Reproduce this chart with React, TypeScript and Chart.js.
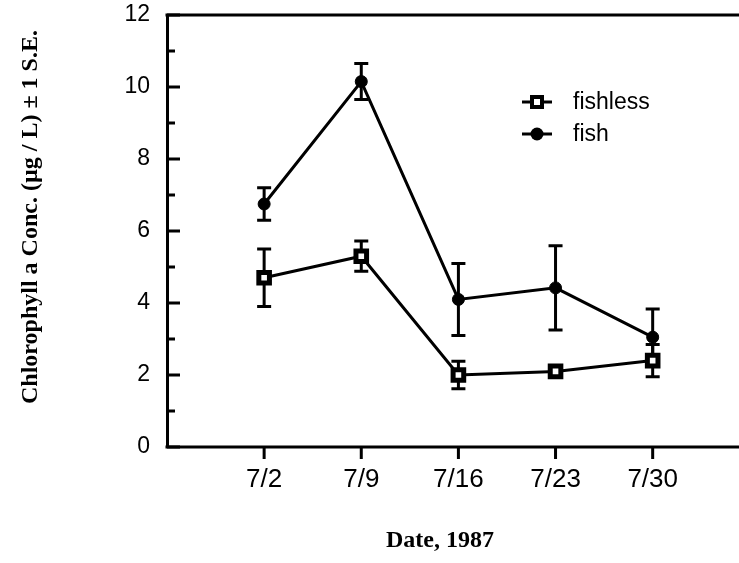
import React, { useEffect, useRef } from "react";
import { Chart, registerables } from "chart.js";

Chart.register(...registerables);

const categories = ["7/2", "7/9", "7/16", "7/23", "7/30"];
const fishless = [4.7, 5.3, 2.0, 2.1, 2.4];
const fishlessSE = [0.8, 0.42, 0.38, 0.08, 0.45];
const fish = [6.75, 10.15, 4.1, 4.42, 3.05];
const fishSE = [0.45, 0.5, 1.0, 1.17, 0.78];
const yTicks = [0, 2, 4, 6, 8, 10, 12];
const yMinorTicks = [1, 3, 5, 7, 9, 11];
const legendLabels = ["fishless", "fish"];
const yTitle = "Chlorophyll a Conc. (\u00b5g / L) \u00b1 1 S.E.";
const xTitle = "Date, 1987";

const SANS = "Arial, 'Liberation Sans', Helvetica, sans-serif";
const SERIF = "'Times New Roman', 'Liberation Serif', serif";

const decorPlugin = {
  id: "decor",
  beforeDatasetsDraw(chart: any) {
    const ctx = chart.ctx;
    const xs = chart.scales.x;
    const ys = chart.scales.y;
    ctx.save();
    ctx.strokeStyle = "#000";
    ctx.lineWidth = 3;
    const series = [
      { v: fishless, e: fishlessSE },
      { v: fish, e: fishSE },
    ];
    series.forEach((s) => {
      s.v.forEach((val, i) => {
        const px = xs.getPixelForValue(i + 1);
        const top = ys.getPixelForValue(val + s.e[i]);
        const bot = ys.getPixelForValue(val - s.e[i]);
        ctx.beginPath();
        ctx.moveTo(px, top);
        ctx.lineTo(px, bot);
        ctx.moveTo(px - 7, top);
        ctx.lineTo(px + 7, top);
        ctx.moveTo(px - 7, bot);
        ctx.lineTo(px + 7, bot);
        ctx.stroke();
      });
    });
    ctx.restore();
  },
  afterDraw(chart: any) {
    const ctx = chart.ctx;
    const xs = chart.scales.x;
    const ys = chart.scales.y;
    const area = chart.chartArea;
    const W = chart.width;
    ctx.save();
    ctx.strokeStyle = "#000";
    ctx.lineWidth = 3;
    // top border and bottom axis, extended to the right edge
    const yTop = ys.getPixelForValue(12);
    const yBot = ys.getPixelForValue(0);
    ctx.beginPath();
    ctx.moveTo(area.left - 1.5, yTop);
    ctx.lineTo(W, yTop);
    ctx.moveTo(area.left - 1.5, yBot);
    ctx.lineTo(W, yBot);
    ctx.stroke();
    // y ticks inside
    ctx.beginPath();
    yTicks.forEach((t) => {
      const py = ys.getPixelForValue(t);
      ctx.moveTo(area.left, py);
      ctx.lineTo(area.left + 13, py);
    });
    yMinorTicks.forEach((t) => {
      const py = ys.getPixelForValue(t);
      ctx.moveTo(area.left, py);
      ctx.lineTo(area.left + 8, py);
    });
    // x ticks outside
    categories.forEach((_, i) => {
      const px = xs.getPixelForValue(i + 1);
      ctx.moveTo(px, yBot);
      ctx.lineTo(px, yBot + 12);
    });
    ctx.stroke();

    // legend
    const legY = [102, 134];
    ctx.fillStyle = "#000";
    ctx.font = "23px " + SANS;
    ctx.textBaseline = "middle";
    ctx.textAlign = "left";
    legendLabels.forEach((lab, i) => {
      const y = legY[i];
      ctx.lineWidth = 3;
      ctx.beginPath();
      ctx.moveTo(522, y);
      ctx.lineTo(552, y);
      ctx.stroke();
      if (i === 0) {
        ctx.fillStyle = "#fff";
        ctx.lineWidth = 4;
        ctx.beginPath();
        ctx.rect(532, y - 5, 10, 10);
        ctx.fill();
        ctx.stroke();
      } else {
        ctx.fillStyle = "#000";
        ctx.beginPath();
        ctx.arc(537, y, 6.5, 0, Math.PI * 2);
        ctx.fill();
      }
      ctx.fillStyle = "#000";
      ctx.fillText(lab, 573, y + 1);
    });

    // axis titles
    ctx.font = "bold 24px " + SERIF;
    ctx.textAlign = "center";
    ctx.textBaseline = "middle";
    ctx.fillText(xTitle, 440, 541);
    ctx.translate(31, 217);
    ctx.rotate(-Math.PI / 2);
    ctx.fillText(yTitle, 0, 0);
    ctx.restore();
  },
};

export default function App() {
  const ref = useRef<HTMLCanvasElement | null>(null);
  useEffect(() => {
    document.body.style.margin = "0";
    const canvas = ref.current;
    if (!canvas) return;
    const chart = new Chart(canvas, {
      type: "line",
      data: {
        datasets: [
          {
            label: legendLabels[0],
            data: fishless.map((v, i) => ({ x: i + 1, y: v })),
            borderColor: "#000",
            borderWidth: 3,
            pointStyle: "rect",
            pointRadius: 7.5,
            pointBorderWidth: 5,
            pointBackgroundColor: "#fff",
            pointBorderColor: "#000",
            tension: 0,
          },
          {
            label: legendLabels[1],
            data: fish.map((v, i) => ({ x: i + 1, y: v })),
            borderColor: "#000",
            borderWidth: 3,
            pointStyle: "circle",
            pointRadius: 6,
            pointBorderWidth: 1,
            pointBackgroundColor: "#000",
            pointBorderColor: "#000",
            tension: 0,
          },
        ],
      },
      options: {
        responsive: false,
        animation: false,
        devicePixelRatio: 1,
        layout: { padding: { top: 15, left: 0, right: 0, bottom: 0 } },
        plugins: {
          legend: { display: false },
          tooltip: { enabled: false },
        },
        scales: {
          x: {
            type: "linear",
            min: 0,
            max: 5.76,
            afterBuildTicks: (scale: any) => {
              scale.ticks = categories.map((_, i) => ({ value: i + 1 }));
            },
            afterFit: (scale: any) => {
              scale.height = 116;
              scale.paddingLeft = 0;
              scale.paddingRight = 0;
            },
            grid: { display: false },
            border: { display: false },
            ticks: {
              color: "#000",
              font: { family: SANS, size: 26 },
              padding: 9,
              maxRotation: 0,
              autoSkip: false,
              callback: (v: any) => categories[Math.round(Number(v)) - 1] ?? "",
            },
          },
          y: {
            min: 0,
            max: 12,
            afterBuildTicks: (scale: any) => {
              scale.ticks = yTicks.map((v) => ({ value: v }));
            },
            afterFit: (scale: any) => {
              scale.width = 167;
              scale.paddingTop = 0;
              scale.paddingBottom = 0;
            },
            grid: { display: false },
            border: { display: true, color: "#000", width: 3 },
            ticks: {
              color: "#000",
              font: { family: SANS, size: 23 },
              padding: 9,
            },
          },
        },
      },
      plugins: [decorPlugin],
    } as any);
    return () => chart.destroy();
  }, []);
  return (
    <div style={{ position: "fixed", left: 0, top: 0, width: 739, height: 563, background: "#fff" }}>
      <canvas ref={ref} width={739} height={563} />
    </div>
  );
}
